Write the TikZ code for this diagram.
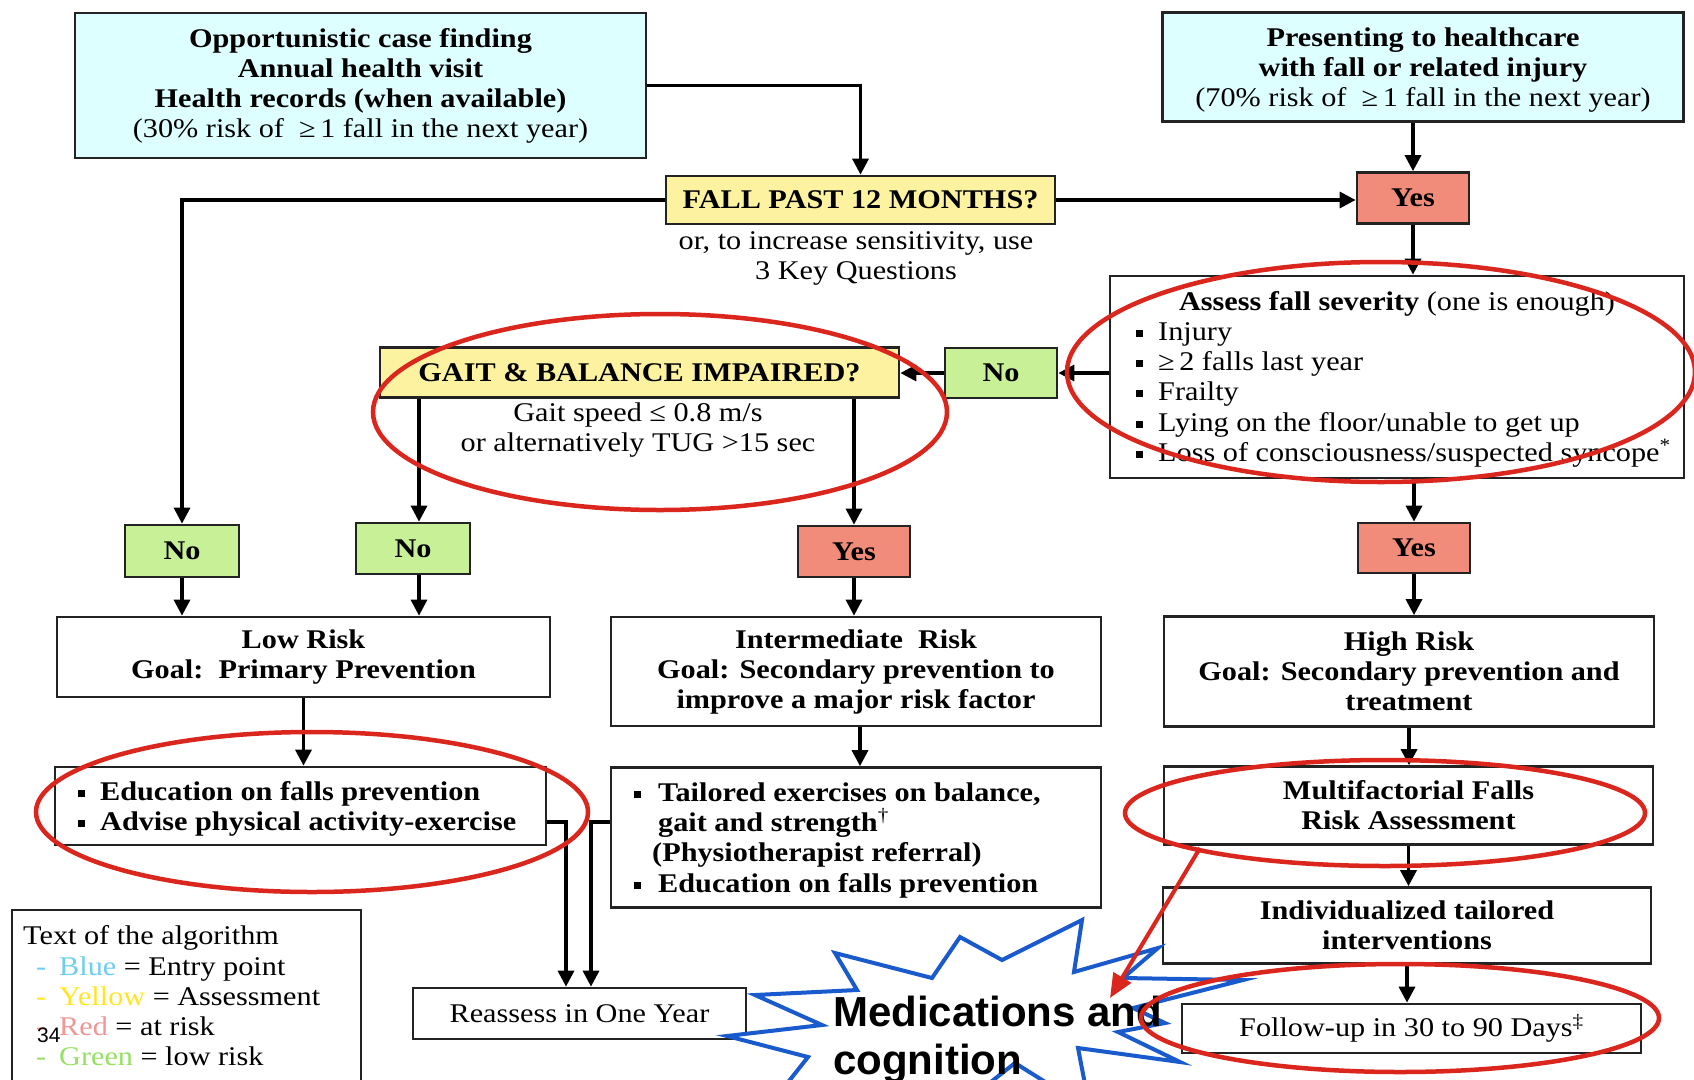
\documentclass[tikz,border=0pt]{standalone}
\usepackage{fontspec}
\setmainfont[FakeStretch=1.12]{Liberation Serif}
\newfontfamily\arialf{Liberation Sans}
\usetikzlibrary{arrows.meta}
\definecolor{bluefill}{RGB}{222,255,255}
\definecolor{yelfill}{RGB}{252,242,160}
\definecolor{redfill}{RGB}{242,140,122}
\definecolor{grnfill}{RGB}{200,240,150}
\definecolor{boxline}{RGB}{35,35,35}
\definecolor{annred}{RGB}{218,38,28}
\definecolor{burst}{RGB}{25,90,205}
\definecolor{legblue}{RGB}{110,205,240}
\definecolor{legyel}{RGB}{255,230,30}
\definecolor{legred}{RGB}{240,150,150}
\definecolor{leggrn}{RGB}{150,225,100}
\newcommand{\sqbul}{\rule[3pt]{7pt}{7pt}}
\begin{document}
\begin{tikzpicture}[x=1pt,y=-1pt,
  font=\fontsize{27}{30}\selectfont,
  box/.style={draw=boxline, line width=2.7pt, inner sep=0pt, align=center, anchor=center},
  arr/.style={draw=black, line width=3.3pt, -{Triangle[length=16pt,width=16pt]}},
  ann/.style={draw=annred, line width=4.5pt},
  lbl/.style={inner sep=0pt, anchor=base west},
  ctext/.style={inner sep=0pt, align=center}]
\useasboundingbox (0,0) rectangle (1694,1079);
\fill[white] (0,0) rectangle (1694,1079);
\clip (0,0) rectangle (1694,1079);

% entry points
\node[box, fill=bluefill, minimum width=571pt, minimum height=145pt] (blue1) at (360.5,85.5)
 {\textbf{Opportunistic case finding}\\\textbf{Annual health visit}\\\textbf{Health records (when available)}\\(30\% risk of \ ≥\,1 fall in the next year)};
\node[box, fill=bluefill, minimum width=521pt, minimum height=109pt] (blue2) at (1423,67) {};
\node[ctext] (blue2t) at (1423,70)
 {\textbf{Presenting to healthcare}\\\textbf{with fall or related injury}\\(70\% risk of \ ≥\,1 fall in the next year)};

% assessments
\node[box, fill=yelfill, minimum width=389pt, minimum height=48pt] (fall) at (860.5,200) {\textbf{FALL PAST 12 MONTHS?}};
\node[ctext] (fallsub) at (856,258) {or, to increase sensitivity, use\\3 Key Questions};
\node[box, fill=redfill, minimum width=112pt, minimum height=51pt] (yes1) at (1413,198) {\textbf{Yes}};
\node[box, minimum width=574pt, minimum height=202pt] (assess) at (1397,377) {};
\node[lbl, anchor=base] (asT) at (1397,310) {\textbf{Assess fall severity} (one is enough)};
\node[lbl] (as1) at (1136,340) {\sqbul\hspace{15pt}Injury};
\node[lbl] (as2) at (1136,370) {\sqbul\hspace{15pt}≥\,2 falls last year};
\node[lbl] (as3) at (1136,400) {\sqbul\hspace{15pt}Frailty};
\node[lbl] (as4) at (1136,431) {\sqbul\hspace{15pt}Lying on the floor/unable to get up};
\node[lbl] (as5) at (1136,461) {\sqbul\hspace{15pt}Loss of consciousness/suspected syncope\textsuperscript{*}};

\node[box, fill=grnfill, minimum width=112pt, minimum height=50pt] (no2) at (1001,373) {\textbf{No}};
\node[box, fill=yelfill, minimum width=519pt, minimum height=50pt] (gait) at (639.5,372.5) {\textbf{GAIT \& BALANCE IMPAIRED?}};
\node[ctext] (gaitsub) at (638,430) {Gait speed ≤ 0.8 m/s\\or alternatively TUG >15 sec};

\node[box, fill=grnfill, minimum width=114pt, minimum height=52pt] (no1) at (182,551) {\textbf{No}};
\node[box, fill=grnfill, minimum width=114pt, minimum height=51pt] (no3) at (413,548.5) {\textbf{No}};
\node[box, fill=redfill, minimum width=112pt, minimum height=51pt] (yes2) at (854,551.5) {\textbf{Yes}};
\node[box, fill=redfill, minimum width=112pt, minimum height=50pt] (yes3) at (1414,548) {\textbf{Yes}};

% risk levels
\node[box, minimum width=493pt, minimum height=80pt] (low) at (303.5,657)
 {\textbf{Low Risk}\\\textbf{Goal:\ \ Primary Prevention}};
\node[box, minimum width=490pt, minimum height=109pt] (inter) at (856,671.5)
 {\textbf{Intermediate\ \ Risk}\\\textbf{Goal: Secondary prevention to}\\\textbf{improve a major risk factor}};
\node[box, minimum width=490pt, minimum height=110pt] (high) at (1409,671.5)
 {\textbf{High Risk}\\\textbf{Goal: Secondary prevention and}\\\textbf{treatment}};

% actions
\node[box, minimum width=491pt, minimum height=78pt] (edu) at (300.5,806) {};
\node[lbl] (edu1) at (78,800) {\sqbul\hspace{15pt}\textbf{Education on falls prevention}};
\node[lbl] (edu2) at (78,830) {\sqbul\hspace{15pt}\textbf{Advise physical activity-exercise}};

\node[box, minimum width=490pt, minimum height=140pt] (tail) at (856,837.5) {};
\node[lbl] (tl1) at (634,801) {\sqbul\hspace{17pt}\textbf{Tailored exercises on balance,}};
\node[lbl] (tl2) at (658,831) {\textbf{gait and strength}\textsuperscript{†}};
\node[lbl] (tl3) at (652,861) {\textbf{(Physiotherapist referral)}};
\node[lbl] (tl4) at (634,892) {\sqbul\hspace{17pt}\textbf{Education on falls prevention}};

\node[box, minimum width=489pt, minimum height=78pt] (multi) at (1408.5,805.5)
 {\textbf{Multifactorial Falls}\\\textbf{Risk Assessment}};
\node[box, minimum width=488pt, minimum height=76pt] (indiv) at (1407,925.5)
 {\textbf{Individualized tailored}\\\textbf{interventions}};
\node[box, minimum width=459pt, minimum height=49pt] (follow) at (1411.5,1028.5)
 {Follow-up in 30 to 90 Days\textsuperscript{‡}};
\node[box, minimum width=333pt, minimum height=51pt] (reassess) at (579.5,1013.5)
 {Reassess in One Year};

% legend
\draw[boxline, line width=2pt] (12,910) rectangle (361,1110);
\node[lbl] (lg0) at (23,944) {Text of the algorithm};
\node[lbl] (lg1) at (36,975) {\textcolor{legblue}{\makebox[23pt][l]{-}Blue} = Entry point};
\node[lbl] (lg2) at (36,1005) {\textcolor{legyel}{\makebox[23pt][l]{-}Yellow} = Assessment};
\node[lbl] (lg3) at (36,1035) {\textcolor{legred}{\makebox[23pt][l]{-}Red} = at risk};
\node[lbl] (lg4) at (36,1065) {\textcolor{leggrn}{\makebox[23pt][l]{-}Green} = low risk};
\node[lbl, font=\arialf\fontsize{21}{24}\selectfont] (pg) at (37,1042) {34};

% connectors
\coordinate (j1) at (566,822);
\coordinate (j2) at (591,822);
\draw[arr] (blue1.east) -| (fall.north);
\draw[arr] (yes1.north |- blue2.south) -- (yes1.north);
\draw[arr] (fall.east) -- (fall.east -| yes1.west);
\draw[arr] (fall.west) -| (no1.north);
\draw[arr] (yes1.south) -- (yes1.south |- assess.north);
\draw[arr] (assess.west |- no2.east) -- (no2.east);
\draw[arr] (no2.west) -- (no2.west -| gait.east);
\draw[arr] ([xshift=6pt]no3.north |- gait.south) -- ([xshift=6pt]no3.north);
\draw[arr] (yes2.north |- gait.south) -- (yes2.north);
\draw[arr] (yes3.north |- assess.south) -- (yes3.north);
\draw[arr] (no1.south) -- (no1.south |- low.north);
\draw[arr] ([xshift=6pt]no3.south) -- ([xshift=6pt]no3.south |- low.north);
\draw[arr] (yes2.south) -- (yes2.south |- inter.north);
\draw[arr] (yes3.south) -- (yes3.south |- high.north);
\draw[arr] (low.south) -- (low.south |- edu.north);
\draw[arr] ([xshift=4pt]inter.south) -- ([xshift=4pt]inter.south |- tail.north);
\draw[arr] (high.south) -- (high.south |- multi.north);
\draw[arr] (multi.south) -- (multi.south |- indiv.north);
\draw[arr] (indiv.south) -- (indiv.south |- follow.north);
\draw[arr] (edu.east |- j1) -- (j1) -- (j1 |- reassess.north);
\draw[arr] (tail.west |- j2) -- (j2) -- (j2 |- reassess.north);

% starburst callout
\draw[burst, line width=4pt, fill=white, line join=miter]
 (727,1036) -- (822,1025) -- (755,995) -- (857,990) -- (835,953) -- (932,978)
 -- (960,937) -- (1002,960) -- (1082,920) -- (1074,972) -- (1158,948) -- (1123,978)
 -- (1243,980) -- (1133,1008) -- (1165,1023) -- (1118,1032) -- (1180,1062) -- (1078,1048)
 -- (1090,1110) -- (1015,1063) -- (955,1110) -- (880,1082) -- (770,1105) -- (808,1057) -- cycle;
\node[inner sep=0pt, anchor=north west, align=left, font=\arialf\bfseries\fontsize{42}{48}\selectfont] (med) at (833,996)
 {Medications and\\cognition};

% red annotations
\draw[ann] (660,412) ellipse [x radius=287, y radius=98];
\draw[ann] (1381,372) ellipse [x radius=314, y radius=110];
\draw[ann] (312,812) ellipse [x radius=276, y radius=80];
\draw[ann] (1385,813) ellipse [x radius=260, y radius=53];
\draw[ann] (1400,1018) ellipse [x radius=259, y radius=54];
\coordinate (ra1) at (1200,848);
\coordinate (ra2) at (1110,998);
\draw[annred, line width=4pt, -{Triangle[length=24pt,width=20pt]}] (ra1) -- (ra2);
\end{tikzpicture}
\end{document}
